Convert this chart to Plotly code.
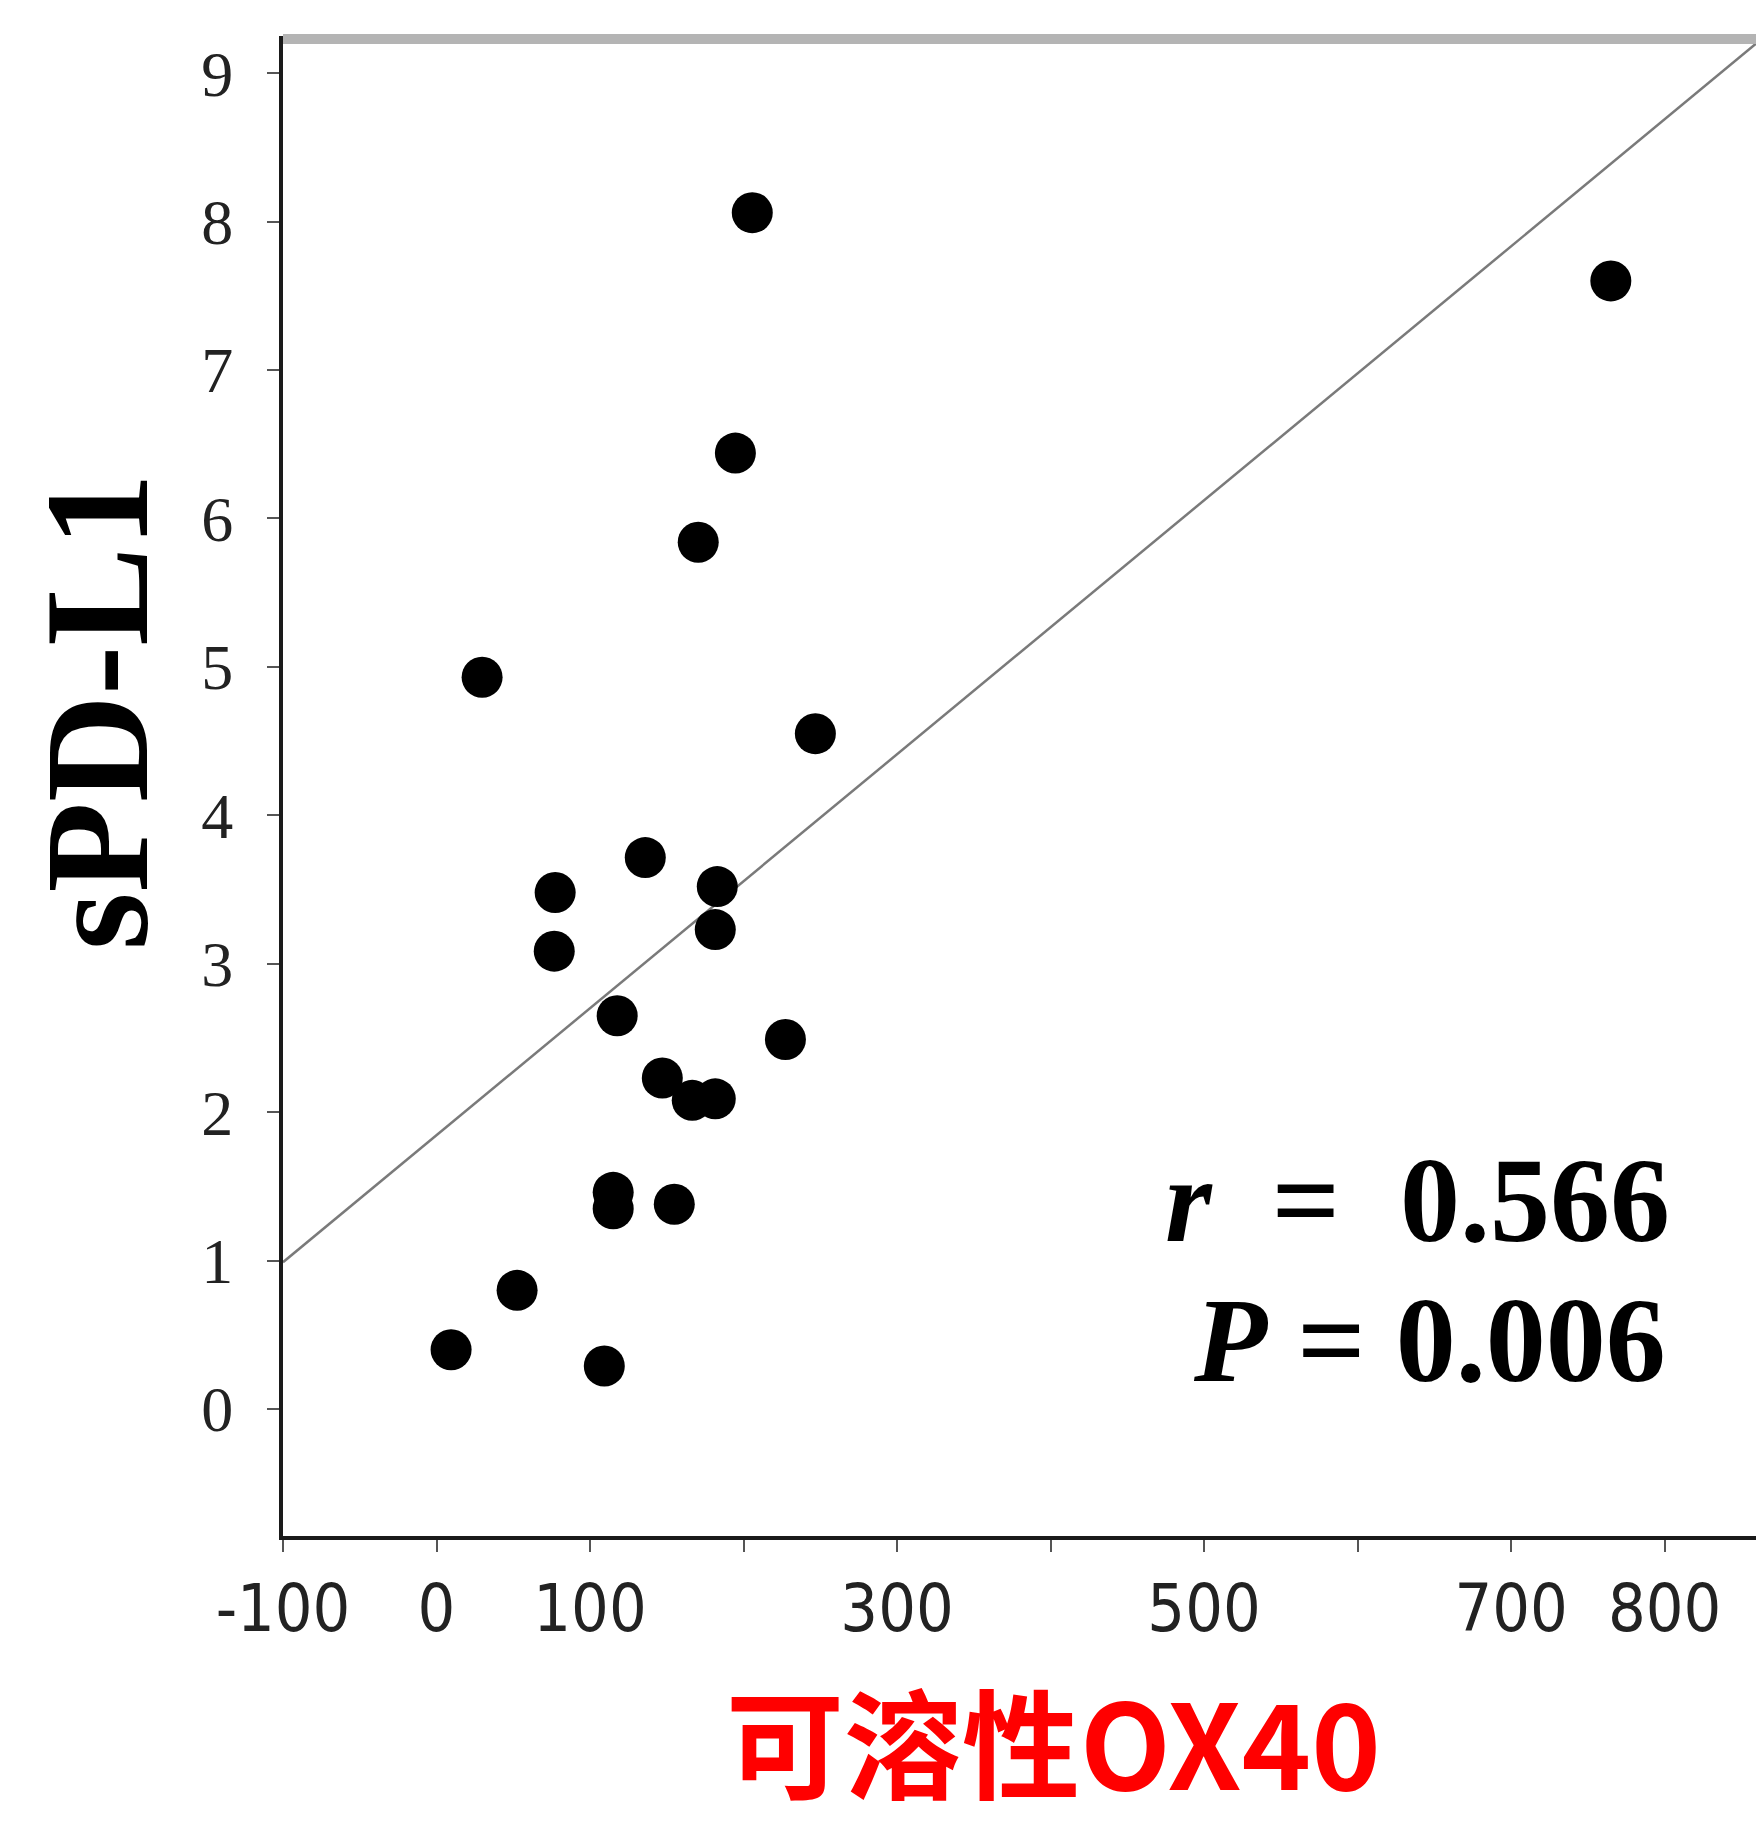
import plotly.graph_objects as go

# ---- data ----
ox40 = [205.7, 765.0, 194.7, 170.5, 29.7, 246.8, 136.0, 77.3, 182.9, 76.7, 181.6,
        117.7, 227.3, 147.1, 166.6, 181.6, 115.1, 115.1, 154.9, 52.5, 109.3, 9.5]
spdl1 = [8.06, 7.60, 6.44, 5.84, 4.93, 4.55, 3.715, 3.48, 3.52, 3.085, 3.23,
         2.65, 2.49, 2.23, 2.08, 2.09, 1.46, 1.35, 1.38, 0.80, 0.29, 0.40]

fit_slope = 0.008554
fit_intercept = 1.845

x_range = [-100, 870.0]
y_range = [-0.855, 9.25]

x_tickvals = [-100, 0, 100, 200, 300, 400, 500, 600, 700, 800]
x_ticktext = ["-100", "0", "100", "", "300", "", "500", "", "700", "800"]
y_tickvals = [0, 1, 2, 3, 4, 5, 6, 7, 8, 9]
y_ticktext = ["0", "1", "2", "3", "4", "5", "6", "7", "8", "9"]

y_title = "sPD-L1"
x_title = "可溶性OX40"
stat_r = "<i>r</i>  =  0.566"
stat_p = "<i>P</i> = 0.006"

# ---- layout geometry (pixels) ----
W, H = 1764, 1834
L, T, R, B = 275, 28, 0, 306
PW, PH = W - L - R, H - T - B


def px(xp):
    return (xp - L) / PW


def py(yp):
    return (H - B - yp) / PH


fit_x = list(x_range)
fit_y = [fit_intercept + fit_slope * v for v in fit_x]

fig = go.Figure()
fig.add_trace(go.Scatter(x=fit_x, y=fit_y, mode="lines",
                         line=dict(color="#7a7a7a", width=2.5),
                         hoverinfo="skip", showlegend=False, cliponaxis=True))
fig.add_trace(go.Scatter(x=ox40, y=spdl1, mode="markers",
                         marker=dict(color="black", size=41, line=dict(width=0)),
                         showlegend=False))

fig.update_layout(
    width=W, height=H,
    margin=dict(l=L, r=R, t=T, b=B, pad=0),
    paper_bgcolor="white", plot_bgcolor="white",
    xaxis=dict(range=x_range, tickvals=x_tickvals, ticktext=x_ticktext,
               showgrid=False, zeroline=False, showline=True,
               linecolor="#1a1a1a", linewidth=4,
               ticks="outside", ticklen=12, tickwidth=2, tickcolor="#555",
               ticklabelstandoff=0,
               tickfont=dict(family="Liberation Sans Narrow, DejaVu Sans Condensed, sans-serif",
                             size=66, color="#222")),
    yaxis=dict(range=y_range, tickvals=y_tickvals, ticktext=y_ticktext,
               showgrid=False, zeroline=False, showline=True,
               linecolor="#1a1a1a", linewidth=4,
               ticks="outside", ticklen=12, tickwidth=2, tickcolor="#555",
               ticklabelstandoff=21,
               tickfont=dict(family="Liberation Serif, serif", size=64, color="#222")),
    shapes=[dict(type="line", xref="paper", yref="paper",
                 x0=0, x1=1, y0=py(31), y1=py(31),
                 line=dict(color="#b4b4b4", width=10))],
    annotations=[
        dict(text="<b>" + y_title + "</b>", xref="paper", yref="paper",
             x=px(89), y=py(704), xanchor="center", yanchor="middle",
             textangle=-90, showarrow=False,
             font=dict(family="Liberation Serif, serif", size=148, color="black")),
        dict(text="<b>" + x_title + "</b>", xref="paper", yref="paper",
             x=px(1045), y=py(1730), xanchor="center", yanchor="middle",
             showarrow=False,
             font=dict(family="Noto Sans CJK SC, sans-serif", size=118, color="#ff0000")),
        dict(text="<b>" + stat_r + "</b>", xref="paper", yref="paper",
             x=px(1664), y=py(1192), xanchor="right", yanchor="middle",
             showarrow=False,
             font=dict(family="Liberation Serif, serif", size=120, color="black")),
        dict(text="<b>" + stat_p + "</b>", xref="paper", yref="paper",
             x=px(1660), y=py(1332), xanchor="right", yanchor="middle",
             showarrow=False,
             font=dict(family="Liberation Serif, serif", size=120, color="black")),
    ],
)

fig.write_html("out.html")
